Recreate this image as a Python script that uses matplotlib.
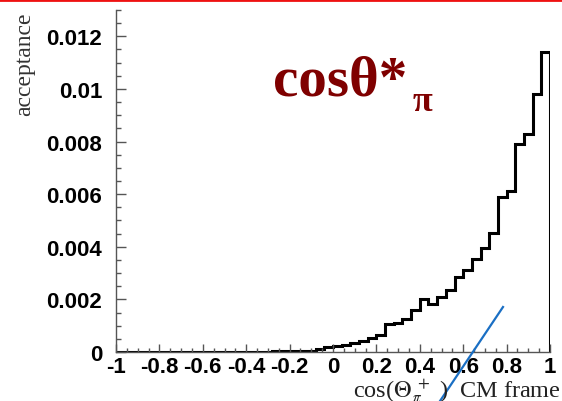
import numpy as np
import matplotlib.pyplot as plt
from matplotlib.ticker import MultipleLocator, FuncFormatter
from matplotlib.lines import Line2D

# acceptance vs cos(theta*) of the pion, 50 bins of 0.04 on [-1, 1]
bin_edges = np.linspace(-1.0, 1.0, 51)
acceptance = (
    [0.0] * 18
    + [0.00003] * 5
    + [0.00012, 0.00018, 0.00024, 0.00028, 0.00034, 0.00042, 0.00052, 0.00063,
       0.00107, 0.00110, 0.00126, 0.00161, 0.00200, 0.00183, 0.00208, 0.00237,
       0.00285, 0.00310, 0.00354, 0.00395, 0.00452, 0.00590, 0.00611, 0.00789,
       0.00827, 0.00980, 0.01142]
)

x_ticks = [-1, -0.8, -0.6, -0.4, -0.2, 0, 0.2, 0.4, 0.6, 0.8, 1]
y_ticks = [0, 0.002, 0.004, 0.006, 0.008, 0.01, 0.012]

W, H = 562, 402
fig = plt.figure(figsize=(W / 100, H / 100), dpi=100)
ax = fig.add_axes([116 / W, 1 - 353 / H, 434 / W, 342 / H])

ax.stairs(acceptance, bin_edges, color='black', linewidth=2.2, baseline=0)

ax.set_xlim(-1, 1)
ax.set_ylim(0, 0.013)
ax.set_xticks(x_ticks)
ax.set_yticks(y_ticks)
ax.xaxis.set_minor_locator(MultipleLocator(0.05))
ax.yaxis.set_minor_locator(MultipleLocator(0.0005))
fmt = FuncFormatter(lambda v, p: '%g' % round(v, 6))
ax.xaxis.set_major_formatter(fmt)
ax.yaxis.set_major_formatter(fmt)

for side in ['top', 'right']:
    ax.spines[side].set_visible(False)
for side in ['left', 'bottom']:
    ax.spines[side].set_color('#555555')
    ax.spines[side].set_linewidth(1.0)

ax.tick_params(axis='both', which='both', direction='in', color='#555555', width=1.0)
ax.tick_params(axis='y', which='major', length=7, pad=10)
ax.tick_params(axis='y', which='minor', length=3.5)
ax.tick_params(axis='x', which='major', length=6, pad=3)
ax.tick_params(axis='x', which='minor', length=3)
for lab in ax.get_xticklabels() + ax.get_yticklabels():
    lab.set_fontfamily('Liberation Sans')
    lab.set_fontweight('bold')
    lab.set_fontsize(16)

# axis titles
plt.rcParams['mathtext.fontset'] = 'stix'
fig.text(25 / W, 1 - 12 / H, 'acceptance', rotation=90, ha='center', va='top',
         family='Liberation Serif', fontsize=17, color='#333333')
fig.text(561 / W, 1 - 397 / H, r'cos($\Theta_{\pi}^{\ +}$ )  CM frame', ha='right',
         va='baseline', family='Liberation Serif', fontsize=17.5, color='#222222')

# big label
fig.text(273 / W, 1 - 95 / H, 'cosθ*', ha='left', va='baseline',
         family='Liberation Serif', fontweight='bold', fontsize=41, color='#7f0000')
fig.text(413 / W, 1 - 111 / H, 'π', ha='left', va='baseline',
         family='Liberation Serif', fontweight='bold', fontsize=26, color='#7f0000')

# red rule along the top and the blue pointer stroke
fig.add_artist(Line2D([0, 1], [1 - 1 / H, 1 - 1 / H], color='#ee1111', linewidth=2.0))
fig.add_artist(Line2D([440 / W, 503 / W], [0, 1 - 308 / H], color='#1a6fc4', linewidth=1.6))

plt.savefig('out.png', dpi=100)
